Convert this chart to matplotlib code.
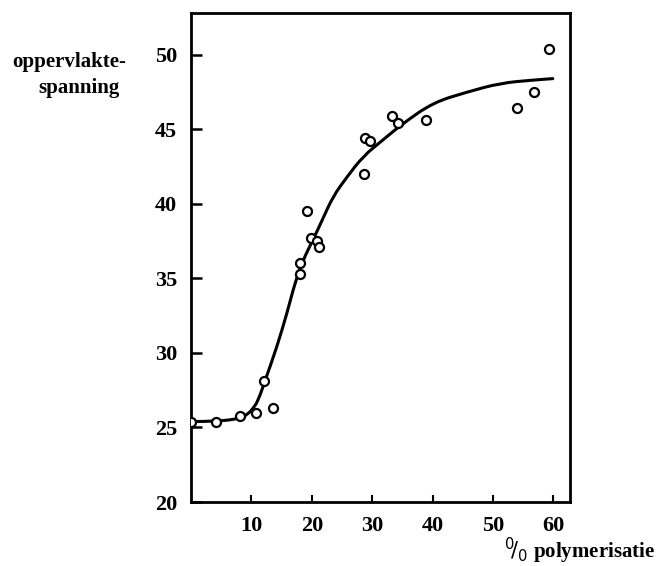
import matplotlib
matplotlib.use("Agg")
import matplotlib.pyplot as plt
from matplotlib.path import Path
from matplotlib.patches import PathPatch

# measured points (% polymerisation, surface tension)
pts_x = [0, 4.1, 8.1, 10.8, 12.1, 13.6, 18.0, 18.0, 19.2, 19.9, 20.9, 21.2,
         28.6, 28.8, 29.6, 33.3, 34.3, 38.9, 54.0, 56.8, 59.3]
pts_y = [25.4, 25.4, 25.8, 26.0, 28.1, 26.3, 35.3, 36.0, 39.5, 37.7, 37.5, 37.1,
         42.0, 44.4, 44.2, 45.9, 45.4, 45.6, 46.4, 47.5, 50.4]

# hand-drawn fitted curve
curve_x = [0, 4.2, 8.1, 9.4, 10.3, 11.1, 12.3, 14.2, 15.9, 17.2, 18.5, 20.2,
           21.7, 23.5, 25.8, 28.5, 31.8, 35.1, 40.1, 45.7, 51.2, 56.6, 59.9]
curve_y = [25.4, 25.4, 25.6, 25.9, 26.3, 26.8, 28.2, 30.4, 32.7, 34.7, 36.2, 37.6,
           38.9, 40.5, 41.8, 43.2, 44.3, 45.4, 46.8, 47.5, 48.1, 48.3, 48.4]

xticks = [10, 20, 30, 40, 50, 60]
yticks = [20, 25, 30, 35, 40, 45, 50]

plt.rcParams['font.family'] = ['Liberation Serif', 'DejaVu Serif']

fig = plt.figure(figsize=(6.59, 5.66), dpi=100)
ax = fig.add_axes([0.290, 0.113, 0.575, 0.864])

# smooth curve: quadratic Bezier path through the read curve points
pts = list(zip(curve_x, curve_y))
verts = [pts[0]]
codes = [Path.MOVETO]
for i in range(1, len(pts) - 1):
    mid = ((pts[i][0] + pts[i + 1][0]) / 2, (pts[i][1] + pts[i + 1][1]) / 2)
    verts += [pts[i], mid]
    codes += [Path.CURVE3, Path.CURVE3]
verts.append(pts[-1])
codes.append(Path.LINETO)
ax.add_patch(PathPatch(Path(verts, codes), facecolor='none', edgecolor='black',
                       lw=2.2, zorder=2, capstyle='round', joinstyle='round'))

ax.plot(pts_x, pts_y, linestyle='none', marker='o', markersize=6.5,
        markerfacecolor='white', markeredgecolor='black', markeredgewidth=1.6, zorder=3)

ax.set_xlim(0, 62.75)
ax.set_ylim(20, 52.8)
ax.set_xticks(xticks)
ax.set_yticks(yticks)
ax.set_xticklabels([str(v) for v in xticks], fontsize=16, fontweight='bold')
ax.set_yticklabels([str(v) for v in yticks], fontsize=16, fontweight='bold')
ax.tick_params(axis='y', direction='in', length=8, width=1.8, pad=10)
ax.tick_params(axis='x', direction='in', length=5, width=1.5, pad=10)
for s in ax.spines.values():
    s.set_linewidth(2.0)

fig.text(12 / 659, 1 - 62 / 566, 'oppervlakte-', fontsize=15, fontweight='bold',
         ha='left', va='center')
fig.text(120 / 659, 1 - 88 / 566, 'spanning', fontsize=15, fontweight='bold',
         ha='right', va='center')
fig.text(655 / 659, 1 - 551 / 566, r'$^{0}\!/_{0}$ polymerisatie', fontsize=15,
         fontweight='bold', ha='right', va='center')

fig.savefig('out.png', dpi=100, facecolor='white')
